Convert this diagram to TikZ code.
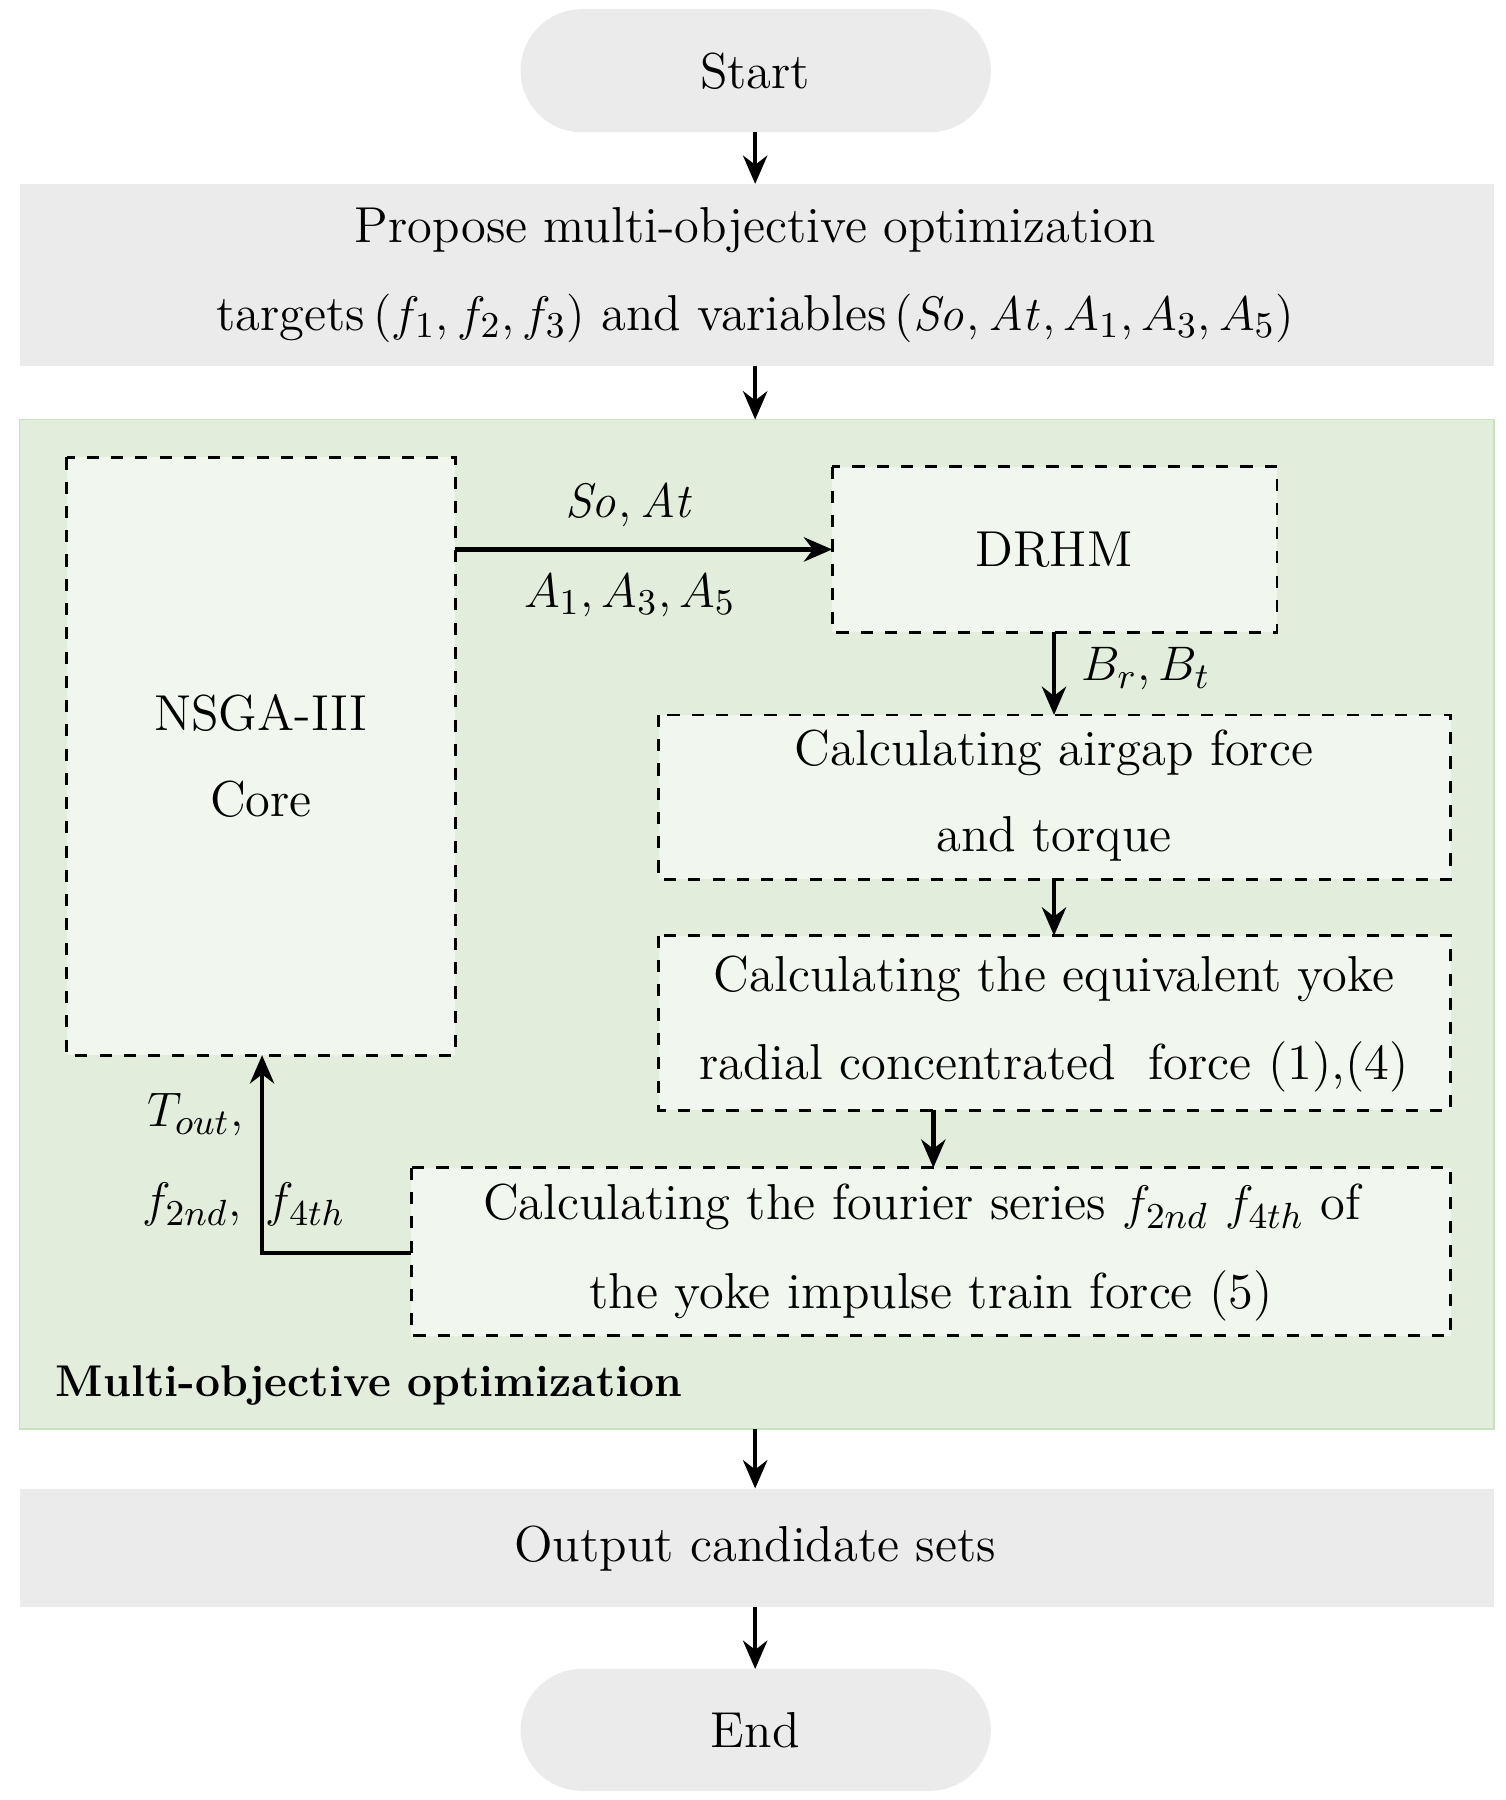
\documentclass[tikz,border=0pt]{standalone}
\usetikzlibrary{arrows.meta}
\definecolor{gbox}{RGB}{235,235,235}
\definecolor{green1}{RGB}{226,237,220}
\definecolor{green2}{RGB}{241,246,238}
\definecolor{gborder}{RGB}{200,225,190}
\begin{document}
\begin{tikzpicture}[x=0.01cm,y=-0.01cm,
  every node/.style={font=\fontsize{12.5}{15}\selectfont},
  arr/.style={line width=1.1pt,-{Stealth[length=7pt,width=6pt]}},
  dbox/.style={draw,dashed,line width=0.7pt,fill=green2},
  txt/.style={align=center}]
\useasboundingbox (0,0) rectangle (1310,1566);
% grey boxes
\fill[gbox,rounded corners=0.53cm] (453,8) rectangle (862,115);
\node (start) at (657,62) {Start};
\fill[gbox] (17,160) rectangle (1300,318);
\node (prop) at (657,239) {};
\node at (657,200) {Propose multi-objective optimization};
\node at (657,277) {targets$\,(f_1,f_2,f_3)$ and variables$\,(\mathit{So},\mathit{At},A_1,A_3,A_5)$};
\fill[green1,draw=gborder] (17,365) rectangle (1300,1243);
\node[font=\fontsize{11}{13}\selectfont\bfseries,anchor=west,inner sep=0pt] at (48,1205) {Multi-objective optimization};
\fill[gbox] (17,1295) rectangle (1300,1398);
\node (out) at (657,1347) {Output candidate sets};
\fill[gbox,rounded corners=0.53cm] (453,1452) rectangle (862,1558);
\node (end) at (657,1505) {End};
% inner boxes
\draw[dbox] (58,398) rectangle (396,918);
\node[txt] at (227,620) {NSGA-III};
\node[txt] at (227,695) {Core};
\draw[dbox] (724,406) rectangle (1111,550);
\node at (917,478) {DRHM};
\draw[dbox] (573,622) rectangle (1262,765);
\node at (917,655) {Calculating airgap force};
\node at (917,730) {and torque};
\draw[dbox] (573,814) rectangle (1262,966);
\node at (917,852) {Calculating the equivalent yoke};
\node at (917,928) {radial concentrated\ \ force (1),(4)};
\draw[dbox] (358,1016) rectangle (1262,1162);
\node at (802,1050) {Calculating the fourier series $f_{2nd}\ f_{4th}$ of};
\node at (810,1127) {the yoke impulse train force (5)};
% coordinates
\coordinate (a1) at (657,115); \coordinate (a2) at (657,160);
\coordinate (b1) at (657,318); \coordinate (b2) at (657,365);
\coordinate (c1) at (657,1243); \coordinate (c2) at (657,1295);
\coordinate (d1) at (657,1398); \coordinate (d2) at (657,1452);
\coordinate (n1) at (396,478); \coordinate (n2) at (724,478);
\coordinate (e1) at (917,550); \coordinate (e2) at (917,622);
\coordinate (f1) at (917,765); \coordinate (f2) at (917,814);
\coordinate (g1) at (812,966); \coordinate (g2) at (812,1016);
\coordinate (h1) at (358,1090); \coordinate (h2) at (228,1090); \coordinate (h3) at (228,918);
\draw[arr] (a1)--(a2);
\draw[arr] (b1)--(b2);
\draw[arr] (c1)--(c2);
\draw[arr] (d1)--(d2);
\draw[arr] (n1)--(n2);
\draw[arr] (e1)--(e2);
\draw[arr] (f1)--(f2);
\draw[arr] (g1)--(g2);
\draw[arr] (h1)--(h2)--(h3);
\node at (548,440) {$\mathit{So},\mathit{At}$};
\node at (548,518) {$A_1,A_3,A_5$};
\node at (997,582) {$B_r,B_t$};
\node at (170,970) {$T_{out},$};
\node at (212,1048) {$f_{2nd},\ f_{4th}$};
\end{tikzpicture}
\end{document}
